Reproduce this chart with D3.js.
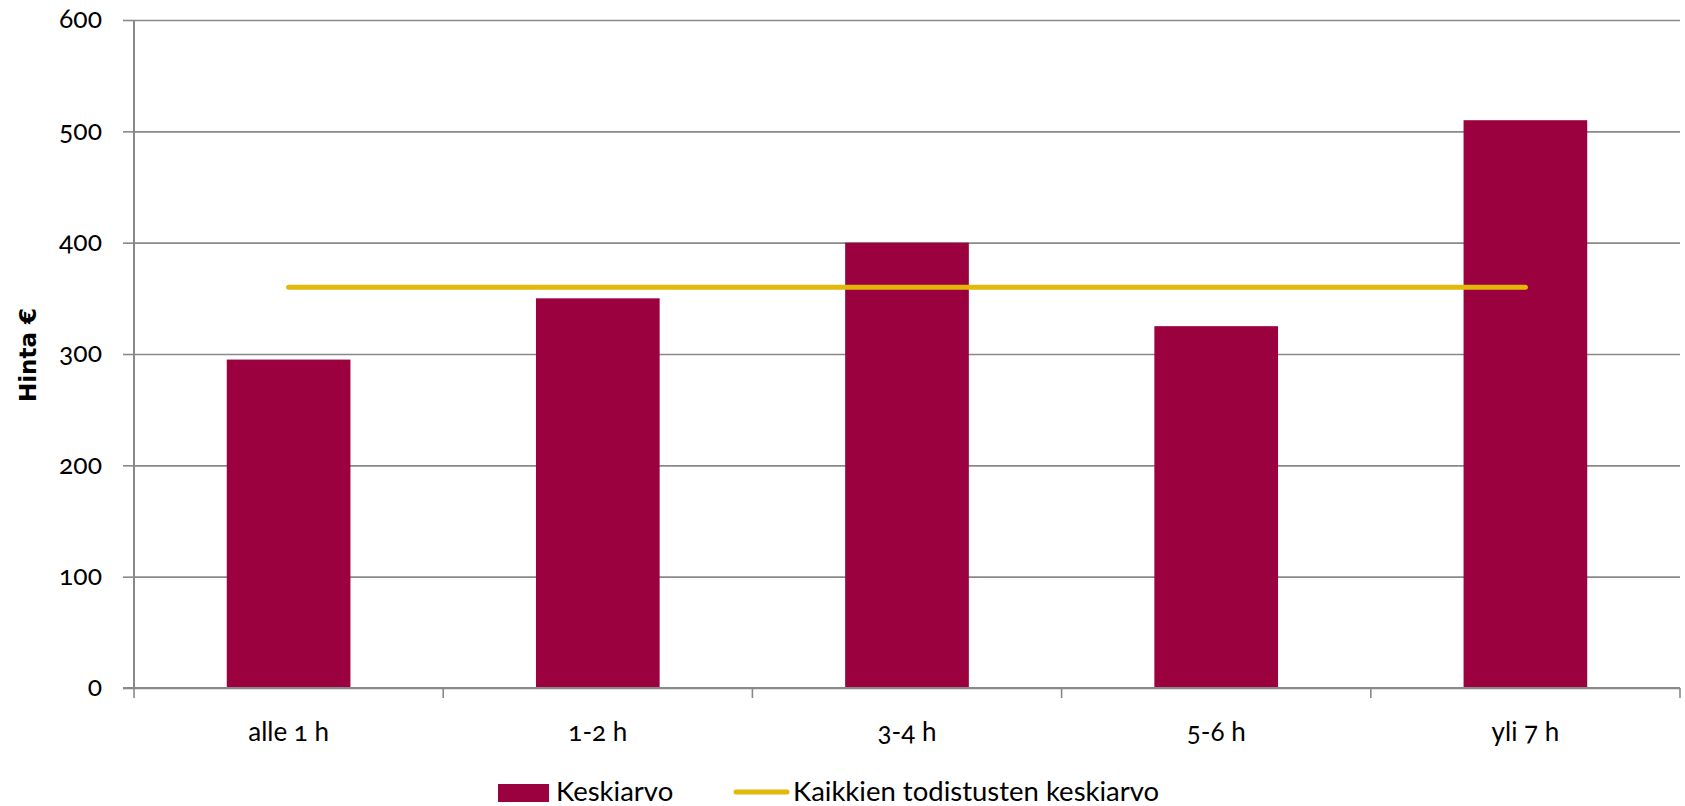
<!DOCTYPE html>
<html><head><meta charset="utf-8">
<script src="https://cdn.jsdelivr.net/npm/d3@7"></script>
<style>
html,body{margin:0;padding:0;background:#fff;}
svg text{font-family:Lato,"Open Sans",sans-serif;fill:#000;font-variant-numeric:oldstyle-nums;font-feature-settings:"onum" 1;}
</style></head>
<body><svg id="c" width="1685" height="806"></svg>
<script>
const categories = ["alle 1 h","1-2 h","3-4 h","5-6 h","yli 7 h"];
const keskiarvo = [295, 350, 400, 325, 510];
const kaikkienKeskiarvo = [360, 360, 360, 360, 360];
const yTicks = [0,100,200,300,400,500,600];
const seriesNames = ["Keskiarvo","Kaikkien todistusten keskiarvo"];
const yTitle = "Hinta €";

const svg = d3.select("#c");
const L = 134, R = 1680, T = 20, B = 688;
const barColor = "#9b003f", lineColor = "#e2b80b", gridColor = "#898989";

const x = d3.scaleBand().domain(categories).range([L, R]).paddingInner(0).paddingOuter(0);
const y = d3.scaleLinear().domain([0, 600]).range([B, T]);

// gridlines via axis
const gy = svg.append("g").attr("transform", `translate(${L},0)`)
  .call(d3.axisLeft(y).tickValues(yTicks).tickSize(-(R - L)).tickFormat(""));
gy.select(".domain").remove();
gy.selectAll(".tick line").attr("stroke", gridColor).attr("stroke-width", 1.6);

// y axis with ticks and labels
const ya = svg.append("g").attr("transform", `translate(${L},0)`)
  .call(d3.axisLeft(y).tickValues(yTicks).tickSize(11).tickPadding(21).tickFormat(d3.format("d")));
ya.select(".domain").attr("stroke", gridColor).attr("stroke-width", 2).attr("d", `M0,${T}V${B}`);
ya.selectAll(".tick line").attr("stroke", gridColor).attr("stroke-width", 1.6);
ya.selectAll(".tick text").attr("font-size", 26.5).attr("dy", "0.3em").style("font-family","Lato");

// bars
const bw = x.bandwidth() * 0.4;
svg.append("g").selectAll("rect").data(keskiarvo).join("rect")
  .attr("x", (d, i) => x(categories[i]) + x.bandwidth() / 2 - bw / 2)
  .attr("width", bw)
  .attr("y", d => y(d))
  .attr("height", d => B - y(d))
  .attr("fill", barColor);

// x axis
const xa = svg.append("g").attr("transform", `translate(0,${B})`)
  .call(d3.axisBottom(x).tickSize(0).tickPadding(0));
xa.select(".domain").remove();
xa.selectAll(".tick text").attr("font-size", 26).attr("y", 53).attr("dy", 0);
svg.append("line").attr("x1", L - 11).attr("x2", R).attr("y1", B).attr("y2", B)
  .attr("stroke", gridColor).attr("stroke-width", 1.8);
const bounds = categories.map(c => x(c)).concat([R]);
svg.append("g").selectAll("line").data(bounds).join("line")
  .attr("x1", d => d).attr("x2", d => d).attr("y1", B).attr("y2", B + 10)
  .attr("stroke", gridColor).attr("stroke-width", 1.6);

// average line
const line = d3.line().x((d, i) => x(categories[i]) + x.bandwidth() / 2).y(d => y(d));
svg.append("path").datum(kaikkienKeskiarvo).attr("d", line)
  .attr("fill", "none").attr("stroke", lineColor).attr("stroke-width", 5).attr("stroke-linecap", "round");

// y title
svg.append("text").attr("transform", "translate(36,355) rotate(-90)")
  .attr("text-anchor", "middle").attr("font-size", 23).attr("font-weight", "bold")
  .style("font-family", "'DejaVu Sans'").text(yTitle);

// legend
const lg = svg.append("g");
lg.append("rect").attr("x", 498).attr("y", 784).attr("width", 51).attr("height", 18).attr("fill", barColor);
lg.append("text").attr("x", 556).attr("y", 801).attr("font-size", 27.5).text(seriesNames[0]);
lg.append("line").attr("x1", 736).attr("x2", 787).attr("y1", 792).attr("y2", 792)
  .attr("stroke", lineColor).attr("stroke-width", 5).attr("stroke-linecap", "round");
lg.append("text").attr("x", 793).attr("y", 801).attr("font-size", 27.5).text(seriesNames[1]);
</script></body></html>
